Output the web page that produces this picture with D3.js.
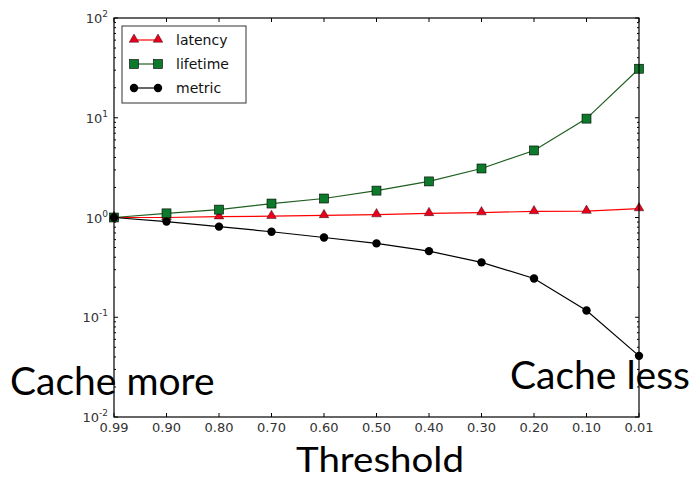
<!DOCTYPE html>
<html>
<head>
<meta charset="utf-8">
<script src="https://cdn.jsdelivr.net/npm/d3@7"></script>
<style>
  body { margin: 0; background: #fff; }
  svg { display: block; }
  .tick_lbl { font-family: "DejaVu Sans", sans-serif; font-size: 13px; fill: #333; }
  .big_lbl { font-family: Lato, "Open Sans", sans-serif; font-size: 39px; fill: #000; }
  .legend_lbl { font-family: "DejaVu Sans", sans-serif; font-size: 14px; fill: #111; }
</style>
</head>
<body>
<div id="chart"></div>
<script>
// data
var thresholds = ['0.99', '0.90', '0.80', '0.70', '0.60', '0.50', '0.40', '0.30', '0.20', '0.10', '0.01'];
var latency  = [1.0, 1.0, 1.02, 1.03, 1.05, 1.07, 1.1, 1.12, 1.15, 1.16, 1.23];
var lifetime = [1.0, 1.1, 1.2, 1.38, 1.55, 1.86, 2.3, 3.1, 4.7, 9.8, 31];
var metric   = [1.0, 0.91, 0.81, 0.72, 0.63, 0.55, 0.46, 0.355, 0.245, 0.117, 0.041];
var y_ticks  = [1e-2, 1e-1, 1e0, 1e1, 1e2];
var y_exps   = ['-2', '-1', '0', '1', '2'];

var series = [
    { name: 'latency',  values: latency,  line: '#ff0000', fill: '#e8001c', shape: 'triangle' },
    { name: 'lifetime', values: lifetime, line: '#1f5f1f', fill: '#0c7a2a', shape: 'square' },
    { name: 'metric',   values: metric,   line: '#000000', fill: '#000000', shape: 'circle' }
];

var W = 690, H = 480;
var m_left = 114, m_right = 639, m_top = 18, m_bottom = 417;

var svg = d3.select('#chart').append('svg').attr('width', W).attr('height', H);

var x_scale = d3.scalePoint().domain(thresholds).range([m_left, m_right]);
var y_scale = d3.scaleLog().domain([1e-2, 1e2]).range([m_bottom, m_top]);

// minor ticks on log axis
var minor = [];
for (var e = -2; e < 2; e++) {
    for (var m = 2; m < 10; m++) minor.push(m * Math.pow(10, e));
}

var axes = svg.append('g').attr('class', 'axes');
// major/minor y ticks, inward on both sides
y_ticks.forEach(function (v) {
    var y = y_scale(v);
    axes.append('line').attr('x1', m_left).attr('x2', m_left + 4).attr('y1', y).attr('y2', y).attr('stroke', '#000');
    axes.append('line').attr('x1', m_right).attr('x2', m_right - 4).attr('y1', y).attr('y2', y).attr('stroke', '#000');
});
minor.forEach(function (v) {
    var y = y_scale(v);
    axes.append('line').attr('x1', m_left).attr('x2', m_left + 2).attr('y1', y).attr('y2', y).attr('stroke', '#000');
    axes.append('line').attr('x1', m_right).attr('x2', m_right - 2).attr('y1', y).attr('y2', y).attr('stroke', '#000');
});
thresholds.forEach(function (t) {
    var x = x_scale(t);
    axes.append('line').attr('x1', x).attr('x2', x).attr('y1', m_bottom).attr('y2', m_bottom - 4).attr('stroke', '#000');
    axes.append('line').attr('x1', x).attr('x2', x).attr('y1', m_top).attr('y2', m_top + 4).attr('stroke', '#000');
    axes.append('text').attr('class', 'tick_lbl').attr('x', x).attr('y', m_bottom + 15)
        .attr('text-anchor', 'middle').text(t);
});
y_ticks.forEach(function (v, i) {
    var t = axes.append('text').attr('class', 'tick_lbl').attr('x', m_left - 6).attr('y', y_scale(v) + 5)
        .attr('text-anchor', 'end');
    t.append('tspan').text('10');
    t.append('tspan').attr('dy', -6).attr('font-size', 9).text(y_exps[i]);
});

// series lines and markers
function draw_marker(g, shape, x, y, fill) {
    if (shape === 'square') {
        g.append('rect').attr('x', x - 4.5).attr('y', y - 4.5).attr('width', 9).attr('height', 9)
            .attr('fill', fill).attr('stroke', '#000').attr('stroke-width', 0.6);
    } else if (shape === 'triangle') {
        g.append('path').attr('d', d3.symbol().type(d3.symbolTriangle).size(40)())
            .attr('transform', 'translate(' + x + ',' + (y - 0.5) + ')')
            .attr('fill', fill).attr('stroke', '#000').attr('stroke-width', 0.4);
    } else {
        g.append('circle').attr('cx', x).attr('cy', y).attr('r', 4.2).attr('fill', fill);
    }
}

var line = d3.line().x(function (d, i) { return x_scale(thresholds[i]); }).y(function (d) { return y_scale(d); });
var plot = svg.append('g').attr('class', 'plot');
series.forEach(function (s) {
    plot.append('path').attr('d', line(s.values)).attr('fill', 'none').attr('stroke', s.line).attr('stroke-width', 1.2);
    s.values.forEach(function (v, i) {
        draw_marker(plot, s.shape, x_scale(thresholds[i]), y_scale(v), s.fill);
    });
});

// frame
svg.append('rect').attr('x', m_left).attr('y', m_top).attr('width', m_right - m_left).attr('height', m_bottom - m_top)
    .attr('fill', 'none').attr('stroke', '#000').attr('stroke-width', 1.2);

// legend
var legend = svg.append('g').attr('class', 'legend');
legend.append('rect').attr('x', 122).attr('y', 26).attr('width', 124).attr('height', 77)
    .attr('fill', '#fff').attr('stroke', '#333').attr('stroke-width', 1);
series.forEach(function (s, i) {
    var y = 40 + i * 24;
    legend.append('line').attr('x1', 134).attr('x2', 158).attr('y1', y).attr('y2', y)
        .attr('stroke', s.line).attr('stroke-width', 1.2);
    draw_marker(legend, s.shape, 134, y, s.fill);
    draw_marker(legend, s.shape, 158, y, s.fill);
    legend.append('text').attr('class', 'legend_lbl').attr('x', 176).attr('y', y + 5).text(s.name);
});

// annotations
svg.append('text').attr('class', 'big_lbl').attr('x', 10).attr('y', 395).text('Cache more');
svg.append('text').attr('class', 'big_lbl').attr('x', 510).attr('y', 389).text('Cache less');
svg.append('text').attr('class', 'big_lbl').attr('x', 296).attr('y', 472).style('font-size', '35px')
    .attr('textLength', 168).attr('lengthAdjust', 'spacingAndGlyphs').text('Threshold');
</script>
</body>
</html>
